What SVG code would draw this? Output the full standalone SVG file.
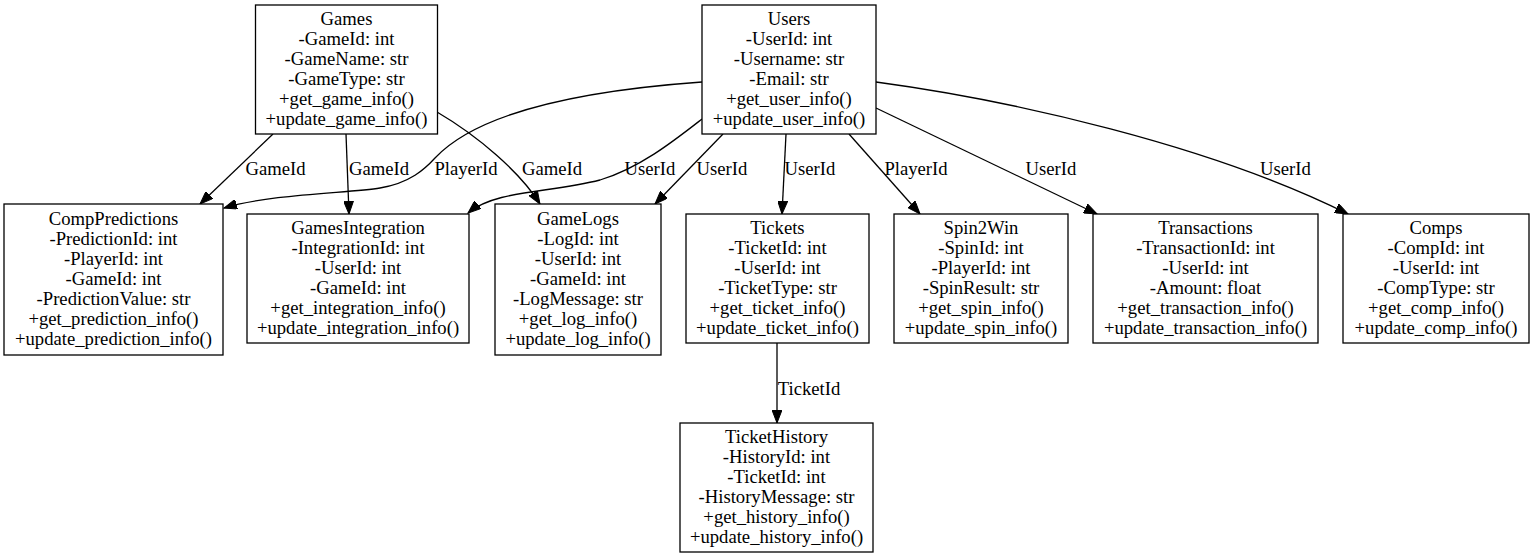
<svg xmlns="http://www.w3.org/2000/svg" width="1535" height="559" viewBox="0 0 1535 559">
<style>
.n rect{fill:#fff;stroke:#000;stroke-width:1.3}
text{font-family:"Liberation Serif","Times New Roman",serif;font-size:18.67px;text-anchor:middle;fill:#000}
.e path{fill:none;stroke:#000;stroke-width:1.3;marker-end:url(#a)}
</style>
<defs>
<marker id="a" markerUnits="userSpaceOnUse" markerWidth="14" markerHeight="10" refX="13" refY="5" orient="auto" viewBox="0 0 14 10">
<path d="M0,0 L13,5 L0,10 z" fill="#000" stroke="#000" stroke-width="1"/>
</marker>
</defs>
<rect width="1535" height="559" fill="#fff"/>
<g id="connectors" class="e">
<path d="M273,134 L200,204"/>
<path d="M346,134 L349,214"/>
<path d="M437,112 C478,136 520,172 540,204"/>
<path d="M702,82 C590,90 480,110 435,158 C425,169 410,183 380,188 C350,193 270,194 224,208"/>
<path d="M702,119 C675,140 640,168 600,180 C550,193 495,190 468,213"/>
<path d="M723,134 L655,204"/>
<path d="M786,134 L782,214"/>
<path d="M849,134 L920,214"/>
<path d="M876,108 L1097,214"/>
<path d="M876,82 C1010,100 1210,145 1348,214"/>
<path d="M777,343 L777,423"/>
</g>
<g id="edge-labels">
<text x="275.5" y="175">GameId</text>
<text x="379" y="175">GameId</text>
<text x="466" y="175">PlayerId</text>
<text x="552" y="175">GameId</text>
<text x="650" y="175">UserId</text>
<text x="722" y="175">UserId</text>
<text x="810" y="175">UserId</text>
<text x="916" y="175">PlayerId</text>
<text x="1051" y="175">UserId</text>
<text x="1285.5" y="175">UserId</text>
<text x="809" y="395">TicketId</text>
</g>
<g id="Games" class="n">
<rect x="255.5" y="5" width="182" height="129"/>
<text x="346.5" y="24.5">Games</text>
<text x="346.5" y="44.5">-GameId: int</text>
<text x="346.5" y="64.5">-GameName: str</text>
<text x="346.5" y="84.5">-GameType: str</text>
<text x="346.5" y="104.5">+get_game_info()</text>
<text x="346.5" y="124.5">+update_game_info()</text>
</g>
<g id="Users" class="n">
<rect x="702" y="5" width="174" height="129"/>
<text x="789" y="24.5">Users</text>
<text x="789" y="44.5">-UserId: int</text>
<text x="789" y="64.5">-Username: str</text>
<text x="789" y="84.5">-Email: str</text>
<text x="789" y="104.5">+get_user_info()</text>
<text x="789" y="124.5">+update_user_info()</text>
</g>
<g id="CompPredictions" class="n">
<rect x="4" y="204" width="219" height="151"/>
<text x="113.5" y="224.5">CompPredictions</text>
<text x="113.5" y="244.5">-PredictionId: int</text>
<text x="113.5" y="264.5">-PlayerId: int</text>
<text x="113.5" y="284.5">-GameId: int</text>
<text x="113.5" y="304.5">-PredictionValue: str</text>
<text x="113.5" y="324.5">+get_prediction_info()</text>
<text x="113.5" y="344.5">+update_prediction_info()</text>
</g>
<g id="GamesIntegration" class="n">
<rect x="247" y="214" width="222" height="129"/>
<text x="358" y="233.5">GamesIntegration</text>
<text x="358" y="253.5">-IntegrationId: int</text>
<text x="358" y="273.5">-UserId: int</text>
<text x="358" y="293.5">-GameId: int</text>
<text x="358" y="313.5">+get_integration_info()</text>
<text x="358" y="333.5">+update_integration_info()</text>
</g>
<g id="GameLogs" class="n">
<rect x="495" y="204" width="166" height="151"/>
<text x="578" y="224.5">GameLogs</text>
<text x="578" y="244.5">-LogId: int</text>
<text x="578" y="264.5">-UserId: int</text>
<text x="578" y="284.5">-GameId: int</text>
<text x="578" y="304.5">-LogMessage: str</text>
<text x="578" y="324.5">+get_log_info()</text>
<text x="578" y="344.5">+update_log_info()</text>
</g>
<g id="Tickets" class="n">
<rect x="686" y="214" width="183" height="129"/>
<text x="777.5" y="233.5">Tickets</text>
<text x="777.5" y="253.5">-TicketId: int</text>
<text x="777.5" y="273.5">-UserId: int</text>
<text x="777.5" y="293.5">-TicketType: str</text>
<text x="777.5" y="313.5">+get_ticket_info()</text>
<text x="777.5" y="333.5">+update_ticket_info()</text>
</g>
<g id="Spin2Win" class="n">
<rect x="894" y="214" width="174" height="129"/>
<text x="981" y="233.5">Spin2Win</text>
<text x="981" y="253.5">-SpinId: int</text>
<text x="981" y="273.5">-PlayerId: int</text>
<text x="981" y="293.5">-SpinResult: str</text>
<text x="981" y="313.5">+get_spin_info()</text>
<text x="981" y="333.5">+update_spin_info()</text>
</g>
<g id="Transactions" class="n">
<rect x="1093" y="214" width="225" height="129"/>
<text x="1205.5" y="233.5">Transactions</text>
<text x="1205.5" y="253.5">-TransactionId: int</text>
<text x="1205.5" y="273.5">-UserId: int</text>
<text x="1205.5" y="293.5">-Amount: float</text>
<text x="1205.5" y="313.5">+get_transaction_info()</text>
<text x="1205.5" y="333.5">+update_transaction_info()</text>
</g>
<g id="Comps" class="n">
<rect x="1343" y="214" width="186" height="129"/>
<text x="1436" y="233.5">Comps</text>
<text x="1436" y="253.5">-CompId: int</text>
<text x="1436" y="273.5">-UserId: int</text>
<text x="1436" y="293.5">-CompType: str</text>
<text x="1436" y="313.5">+get_comp_info()</text>
<text x="1436" y="333.5">+update_comp_info()</text>
</g>
<g id="TicketHistory" class="n">
<rect x="680" y="423" width="193" height="129"/>
<text x="776.5" y="442.5">TicketHistory</text>
<text x="776.5" y="462.5">-HistoryId: int</text>
<text x="776.5" y="482.5">-TicketId: int</text>
<text x="776.5" y="502.5">-HistoryMessage: str</text>
<text x="776.5" y="522.5">+get_history_info()</text>
<text x="776.5" y="542.5">+update_history_info()</text>
</g>
</svg>
